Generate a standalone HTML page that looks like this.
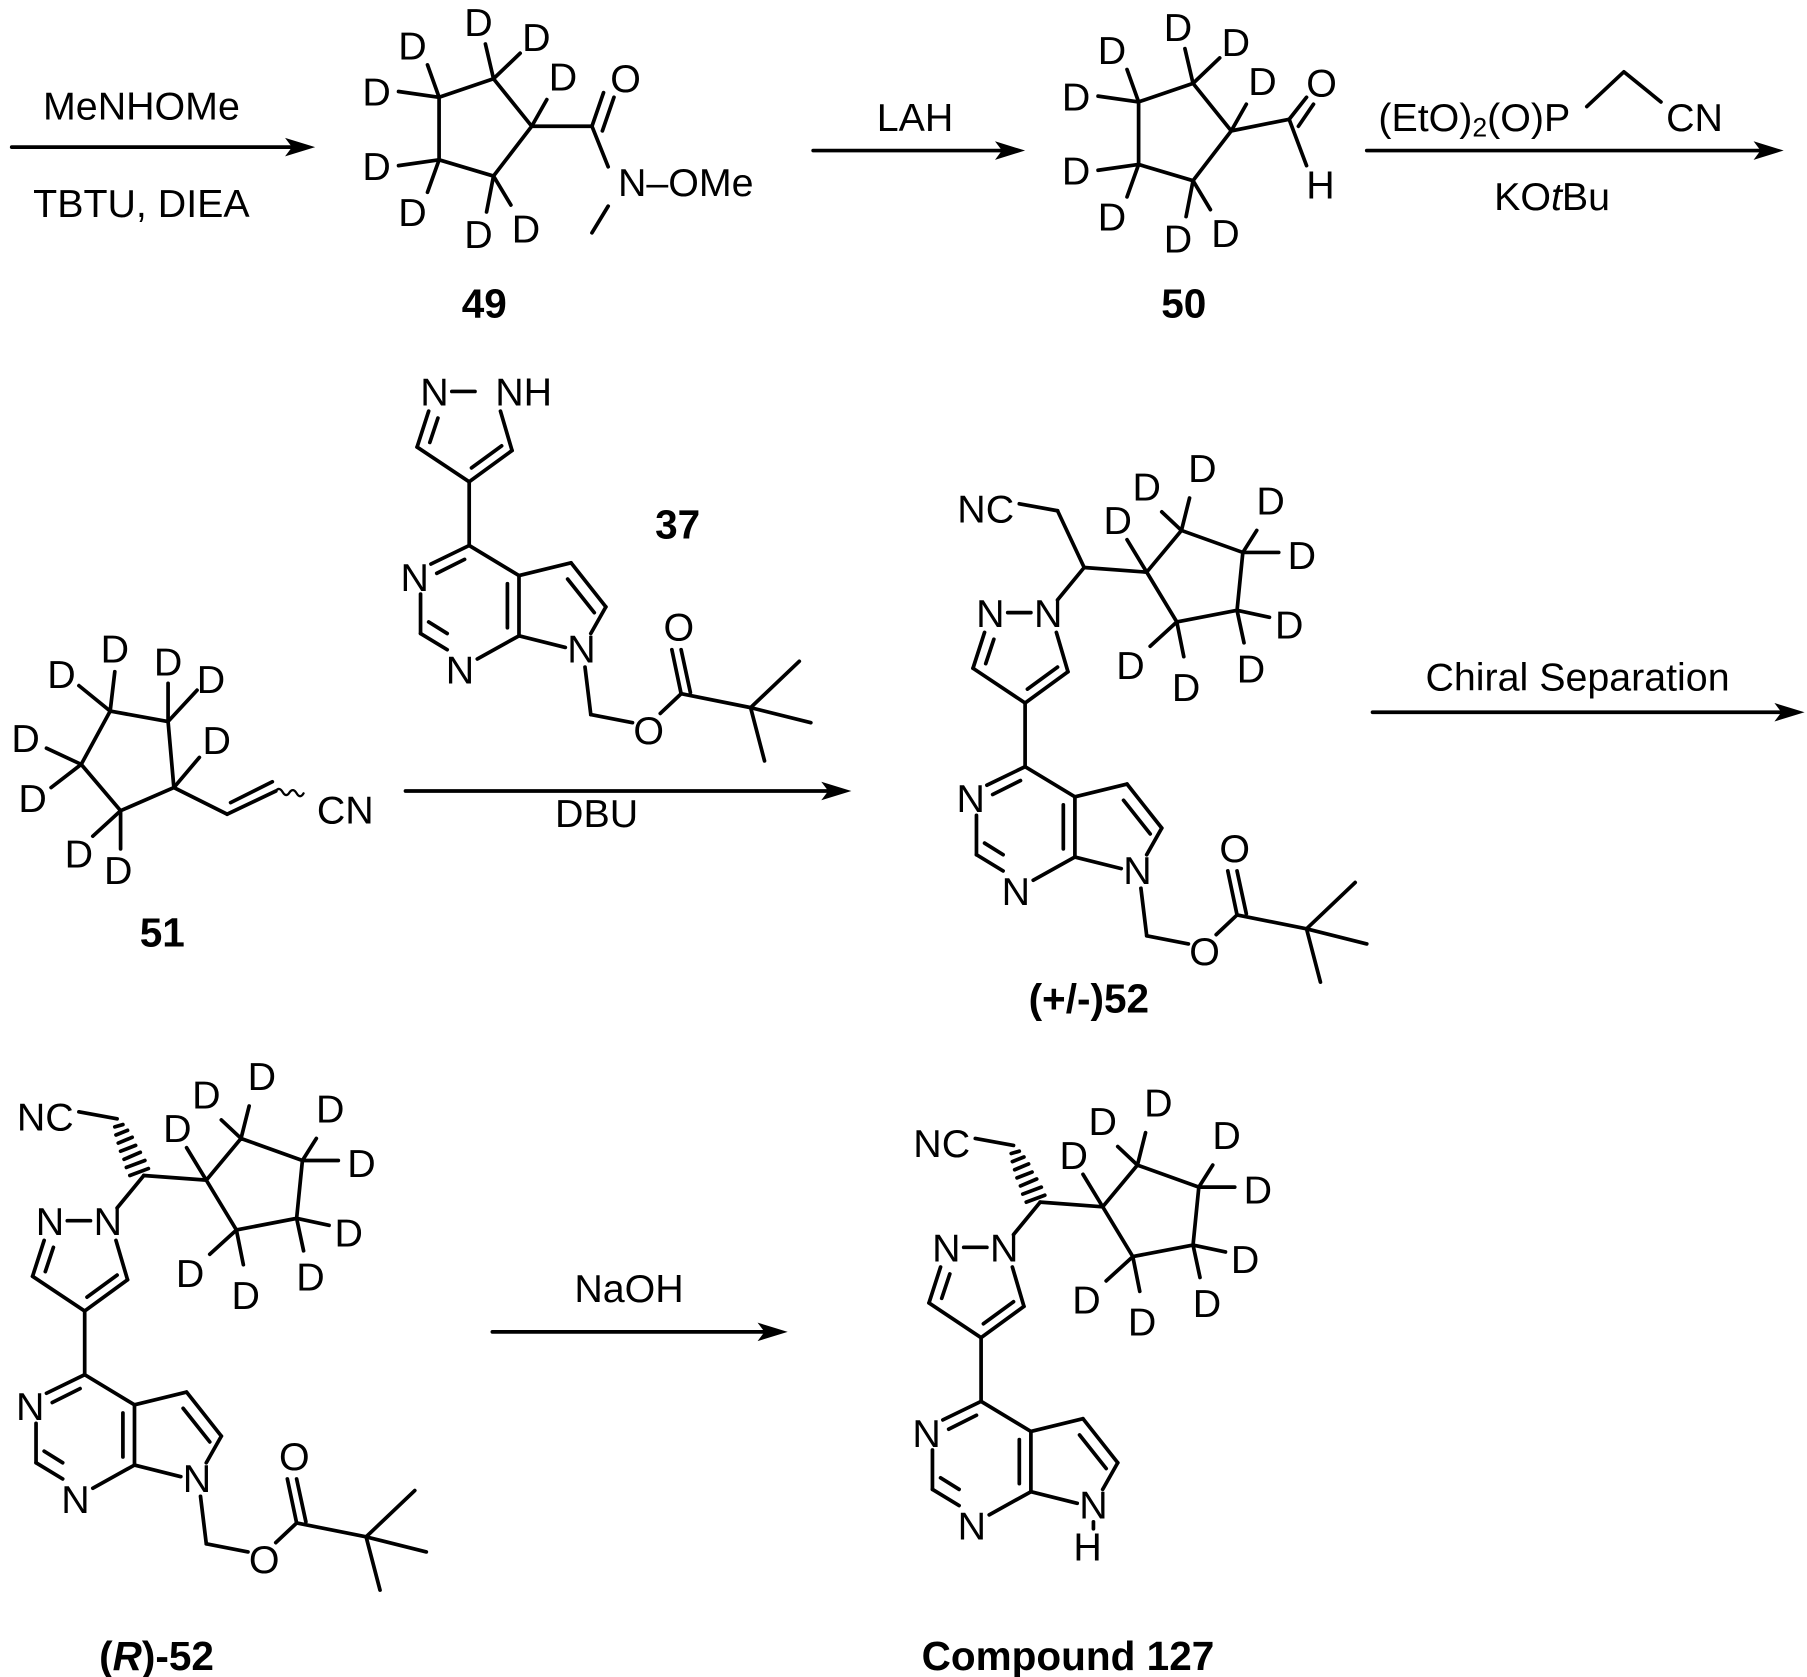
<!DOCTYPE html>
<html><head><meta charset="utf-8"><style>
html,body{margin:0;padding:0;background:#fff;}
svg{display:block;}
text{font-family:"Liberation Sans",Arial,sans-serif;font-size:34px;fill:#000;dominant-baseline:central;text-anchor:middle;}
.b{font-weight:bold;font-size:35px;}
line,polyline,path{stroke:#000;stroke-width:3.2;fill:none;stroke-linecap:round;stroke-linejoin:round;}
</style></head><body>
<svg width="1807" height="1677" viewBox="0 0 1560 1448" xmlns="http://www.w3.org/2000/svg">
<defs>
<g id="core">
  <line x1="870" y1="529" x2="890" y2="529"/>
  <line x1="850" y1="546" x2="840" y2="577"/>
  <line x1="858" y1="552" x2="851" y2="573"/>
  <line x1="840" y1="577" x2="885" y2="607"/>
  <line x1="885" y1="607" x2="922" y2="580"/>
  <line x1="887" y1="595" x2="913" y2="576"/>
  <line x1="922" y1="580" x2="912" y2="546"/>
  <line x1="885" y1="607" x2="885" y2="662"/>
  <line x1="885" y1="662" x2="852" y2="678"/>
  <line x1="881" y1="674" x2="857" y2="686"/>
  <line x1="843" y1="704" x2="843" y2="738"/>
  <line x1="843" y1="738" x2="866" y2="752"/>
  <line x1="850" y1="728" x2="866" y2="738"/>
  <line x1="892" y1="760" x2="928" y2="740"/>
  <line x1="928" y1="740" x2="928" y2="688"/>
  <line x1="918" y1="733" x2="918" y2="695"/>
  <line x1="928" y1="688" x2="885" y2="662"/>
  <line x1="928" y1="688" x2="973" y2="677"/>
  <line x1="973" y1="677" x2="1003" y2="715"/>
  <line x1="970" y1="691" x2="993" y2="720"/>
  <line x1="1003" y1="715" x2="990" y2="738"/>
  <line x1="928" y1="740" x2="968" y2="750"/>
  <text x="838" y="690">N</text>
  <text x="877" y="770">N</text>
  <text x="982" y="752">N</text>
</g>
<g id="ester">
  <line x1="985" y1="767" x2="990" y2="808"/>
  <line x1="990" y1="808" x2="1026" y2="815"/>
  <line x1="1050" y1="807" x2="1068" y2="790"/>
  <line x1="1068" y1="790" x2="1060" y2="752"/>
  <line x1="1076" y1="789" x2="1068" y2="752"/>
  <line x1="1068" y1="790" x2="1128" y2="802"/>
  <line x1="1128" y1="802" x2="1170" y2="762"/>
  <line x1="1128" y1="802" x2="1180" y2="815"/>
  <line x1="1128" y1="802" x2="1140" y2="848"/>
  <text x="1040" y="822">O</text>
  <text x="1066" y="733">O</text>
</g>
<g id="side">
  <text x="851" y="440">NC</text>
  <line x1="880" y1="435" x2="913" y2="441"/>
  <line x1="936" y1="490" x2="913" y2="518"/>
  <line x1="936" y1="490" x2="990" y2="494"/>
  <polyline points="990,494 1020,458 1073,477 1068,527 1016,537 990,494"/>
  <line x1="1020" y1="458" x2="1003" y2="442"/>
  <line x1="1020" y1="458" x2="1027" y2="430"/>
  <line x1="990" y1="494" x2="973" y2="466"/>
  <line x1="1073" y1="477" x2="1085" y2="458"/>
  <line x1="1073" y1="477" x2="1104" y2="477"/>
  <line x1="1068" y1="527" x2="1096" y2="533"/>
  <line x1="1068" y1="527" x2="1074" y2="555"/>
  <line x1="1016" y1="537" x2="993" y2="558"/>
  <line x1="1016" y1="537" x2="1022" y2="567"/>
  <text x="990" y="421">D</text>
  <text x="1038" y="405">D</text>
  <text x="965" y="450">D</text>
  <text x="1097" y="433">D</text>
  <text x="1124" y="480">D</text>
  <text x="1113" y="540">D</text>
  <text x="1080" y="578">D</text>
  <text x="976" y="575">D</text>
  <text x="1024" y="594">D</text>
</g>
<g id="hash" style="stroke-width:2.2">
  <line x1="911" y1="448" x2="918" y2="446"/>
  <line x1="912" y1="455" x2="922" y2="451"/>
  <line x1="914" y1="462" x2="926" y2="457"/>
  <line x1="916" y1="469" x2="929" y2="464"/>
  <line x1="919" y1="476" x2="933" y2="470"/>
  <line x1="921" y1="483" x2="937" y2="477"/>
  <line x1="924" y1="490" x2="940" y2="484"/>
</g>
<g id="ring49">
  <polyline points="426,68 379,84 379,138 426,152 459,109 426,68"/>
  <line x1="426" y1="68" x2="419" y2="38"/>
  <line x1="426" y1="68" x2="449" y2="46"/>
  <line x1="379" y1="84" x2="369" y2="56"/>
  <line x1="379" y1="84" x2="344" y2="79"/>
  <line x1="459" y1="109" x2="472" y2="86"/>
  <line x1="379" y1="138" x2="344" y2="143"/>
  <line x1="379" y1="138" x2="369" y2="166"/>
  <line x1="426" y1="152" x2="420" y2="183"/>
  <line x1="426" y1="152" x2="441" y2="177"/>
  <text x="413" y="20">D</text>
  <text x="463" y="33">D</text>
  <text x="356" y="40">D</text>
  <text x="325" y="80">D</text>
  <text x="486" y="67">D</text>
  <text x="325" y="144">D</text>
  <text x="356" y="184">D</text>
  <text x="413" y="203">D</text>
  <text x="454" y="198">D</text>
</g>
<path id="ah" d="M0,0 L-26,-8 L-20,0 L-26,8 Z" style="fill:#000;stroke:none"/>
</defs>

<line x1="10" y1="127" x2="262" y2="127"/><use href="#ah" x="272" y="127"/>
<text x="122" y="92">MeNHOMe</text>
<text x="122" y="176">TBTU, DIEA</text>

<use href="#ring49"/>
<line x1="459" y1="109" x2="511" y2="109"/>
<line x1="511" y1="109" x2="521" y2="80"/>
<line x1="520" y1="113" x2="530" y2="84"/>
<text x="540" y="68">O</text>
<line x1="511" y1="109" x2="525" y2="144"/>
<text x="592" y="158">N–OMe</text>
<line x1="525" y1="178" x2="511" y2="201"/>
<text x="418" y="262" class="b">49</text>

<line x1="702" y1="130" x2="875" y2="130"/><use href="#ah" x="885" y="130"/>
<text x="790" y="102">LAH</text>

<g transform="translate(604,4)"><use href="#ring49"/></g>
<line x1="1063" y1="113" x2="1113" y2="103"/>
<line x1="1113" y1="103" x2="1128" y2="84"/>
<line x1="1121" y1="109" x2="1134" y2="90"/>
<text x="1141" y="72">O</text>
<line x1="1113" y1="103" x2="1128" y2="143"/>
<text x="1140" y="160">H</text>
<text x="1022" y="262" class="b">50</text>

<line x1="1180" y1="130" x2="1530" y2="130"/><use href="#ah" x="1540" y="130"/>
<text x="1190" y="102" style="text-anchor:start">(EtO)<tspan dy="8" style="font-size:23px">2</tspan><tspan dy="-8">(O)P</tspan></text>
<polyline points="1370,92 1402,62 1434,88"/>
<text x="1463" y="102">CN</text>
<text x="1340" y="170">KO<tspan style="font-style:italic">t</tspan>Bu</text>

<polyline points="95,614 145,623 150,680 104,700 70,660 95,614"/>
<line x1="95" y1="614" x2="99" y2="580"/>
<line x1="95" y1="614" x2="68" y2="592"/>
<line x1="145" y1="623" x2="145" y2="590"/>
<line x1="145" y1="623" x2="170" y2="596"/>
<line x1="150" y1="680" x2="172" y2="654"/>
<line x1="70" y1="660" x2="40" y2="646"/>
<line x1="70" y1="660" x2="44" y2="680"/>
<line x1="104" y1="700" x2="80" y2="722"/>
<line x1="104" y1="700" x2="104" y2="733"/>
<text x="99" y="561">D</text>
<text x="53" y="583">D</text>
<text x="145" y="572">D</text>
<text x="182" y="587">D</text>
<text x="22" y="638">D</text>
<text x="187" y="640">D</text>
<text x="28" y="690">D</text>
<text x="68" y="738">D</text>
<text x="102" y="752">D</text>
<line x1="150" y1="680" x2="196" y2="703"/>
<line x1="196" y1="703" x2="238" y2="683"/>
<line x1="199" y1="693" x2="235" y2="675"/>
<path d="M238,683 q3,-4 6,1 q3,5 6,0 q3,-4 6,1 q3,5 6,0" style="stroke-width:2"/>
<text x="298" y="700">CN</text>
<text x="140" y="805" class="b">51</text>

<g transform="translate(-480,-191)"><use href="#core"/><use href="#ester"/></g>
<text x="375" y="339">N</text>
<text x="452" y="339">NH</text>
<text x="585" y="453" class="b">37</text>

<line x1="350" y1="683" x2="725" y2="683"/><use href="#ah" x="735" y="683"/>
<text x="515" y="703">DBU</text>

<use href="#core"/><use href="#ester"/><use href="#side"/>
<line x1="913" y1="441" x2="936" y2="490"/>
<text x="855" y="530">N</text><text x="905" y="530">N</text>
<text x="940" y="862" class="b">(+/-)52</text>

<line x1="1185" y1="615" x2="1548" y2="615"/><use href="#ah" x="1558" y="615"/>
<text x="1362" y="585">Chiral Separation</text>

<g transform="translate(-812,525)">
  <use href="#core"/><use href="#ester"/><use href="#side"/><use href="#hash"/>
  <text x="855" y="530">N</text><text x="905" y="530">N</text>
</g>
<text x="135" y="1430" class="b">(<tspan style="font-style:italic">R</tspan>)-52</text>

<line x1="425" y1="1150" x2="670" y2="1150"/><use href="#ah" x="680" y="1150"/>
<text x="543" y="1113">NaOH</text>

<g transform="translate(-38,548)">
  <use href="#core"/><use href="#side"/><use href="#hash"/>
  <text x="855" y="530">N</text><text x="905" y="530">N</text>
  <line x1="982" y1="766" x2="982" y2="772"/>
  <text x="977" y="788">H</text>
</g>
<text x="922" y="1430" class="b">Compound 127</text>
</svg>
</body></html>
